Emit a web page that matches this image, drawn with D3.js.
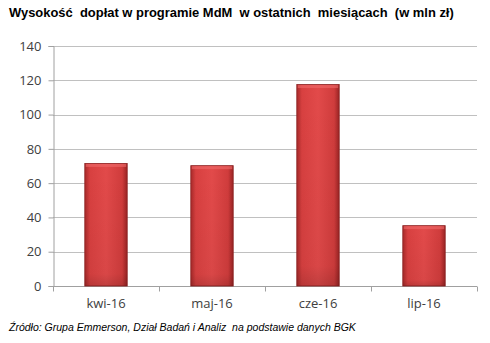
<!DOCTYPE html>
<html><head><meta charset="utf-8">
<script src="https://cdn.jsdelivr.net/npm/d3@7"></script>
<style>
html,body{margin:0;padding:0;background:#fff;}
svg{display:block;}
</style></head>
<body>
<svg id="c" width="490" height="343"></svg>
<script>
const categories = ["kwi-16", "maj-16", "cze-16", "lip-16"];
const values = [71.5, 70.2, 117.5, 35.2];
const yTicks = [0, 20, 40, 60, 80, 100, 120, 140];
const titleText = "Wysokość\u00a0 dopłat w programie MdM\u00a0 w ostatnich\u00a0 miesiącach\u00a0 (w mln zł)";
const sourceText = "Źródło: Grupa Emmerson, Dział Badań i Analiz\u00a0 na podstawie danych BGK";

const svg = d3.select("#c");
const pL = 53, pR = 477, pT = 46, pB = 286;

const x = d3.scaleBand().domain(categories).range([pL, pR]).paddingInner(0.6).paddingOuter(0.3);
const y = d3.scaleLinear().domain([0, 140]).range([pB, pT]);

const defs = svg.append("defs");
const g = defs.append("linearGradient").attr("id", "bar").attr("x1", 0).attr("x2", 1).attr("y1", 0).attr("y2", 0);
g.append("stop").attr("offset", "0%").attr("stop-color", "#a82a2a");
g.append("stop").attr("offset", "12%").attr("stop-color", "#d84040");
g.append("stop").attr("offset", "50%").attr("stop-color", "#e24a4a");
g.append("stop").attr("offset", "88%").attr("stop-color", "#d03c3c");
g.append("stop").attr("offset", "100%").attr("stop-color", "#9a2424");
const gt = defs.append("linearGradient").attr("id", "shade").attr("x1", 0).attr("x2", 0).attr("y1", 0).attr("y2", 1);
gt.append("stop").attr("offset", "0%").attr("stop-color", "#000").attr("stop-opacity", 0);
gt.append("stop").attr("offset", "90%").attr("stop-color", "#000").attr("stop-opacity", 0.04);
gt.append("stop").attr("offset", "100%").attr("stop-color", "#000").attr("stop-opacity", 0.15);

// gridlines
svg.append("g").selectAll("line").data(yTicks.filter(d => d > 0)).join("line")
  .attr("x1", pL).attr("x2", pR)
  .attr("y1", d => Math.round(y(d)) + 0.5).attr("y2", d => Math.round(y(d)) + 0.5)
  .attr("stroke", "#c0c0c0").attr("stroke-width", 1);

// y axis
const yAxis = svg.append("g").attr("transform", `translate(${pL + 0.5},0)`)
  .call(d3.axisLeft(y).tickValues(yTicks).tickSize(5).tickPadding(7).tickFormat(d3.format("d")));
yAxis.select(".domain").attr("stroke", "#a0a0a0");
yAxis.selectAll(".tick line").attr("stroke", "#a0a0a0");
yAxis.selectAll("text").attr("fill", "#404040").attr("font-family", "'Open Sans', 'Liberation Sans', sans-serif").attr("font-size", 13);

// x axis
const xAxis = svg.append("g").attr("transform", `translate(0,${pB + 0.5})`)
  .call(d3.axisBottom(x).tickSize(0).tickPadding(12));
xAxis.select(".domain").remove();
xAxis.append("line").attr("x1", pL).attr("x2", pR).attr("stroke", "#a0a0a0");
const bounds = d3.range(categories.length + 1).map(i => pL + i * (pR - pL) / categories.length);
xAxis.selectAll(".btick").data(bounds).join("line").attr("class", "btick")
  .attr("x1", d => Math.round(d) + 0.5).attr("x2", d => Math.round(d) + 0.5).attr("y1", 0).attr("y2", 5)
  .attr("stroke", "#a0a0a0");
xAxis.selectAll("text").attr("fill", "#404040").attr("font-family", "'Open Sans', 'Liberation Sans', sans-serif").attr("font-size", 13);

// bars
const bars = svg.append("g");
bars.selectAll("rect.b").data(values).join("rect").attr("class", "b")
  .attr("x", (d, i) => x(categories[i])).attr("width", x.bandwidth())
  .attr("y", d => y(d)).attr("height", d => pB - y(d))
  .attr("fill", "url(#bar)").attr("stroke", "#8a2020").attr("stroke-width", 0.8);
bars.selectAll("rect.s").data(values).join("rect").attr("class", "s")
  .attr("x", (d, i) => x(categories[i])).attr("width", x.bandwidth())
  .attr("y", d => y(d)).attr("height", d => pB - y(d))
  .attr("fill", "url(#shade)");
bars.selectAll("rect.t").data(values).join("rect").attr("class", "t")
  .attr("x", (d, i) => x(categories[i]) + 1).attr("width", x.bandwidth() - 2)
  .attr("y", d => y(d) + 0.5).attr("height", 3)
  .attr("fill", "#ee6a6a").attr("opacity", 0.6);

// title
svg.append("text").attr("x", 9).attr("y", 17).text(titleText)
  .attr("font-family", "'Liberation Sans', Arial, sans-serif").attr("font-weight", "bold").attr("font-size", 12.95).attr("fill", "#000");

// source
svg.append("text").attr("x", 9).attr("y", 331).text(sourceText)
  .attr("font-family", "'Liberation Sans', Arial, sans-serif").attr("font-style", "italic").attr("font-size", 10.5).attr("fill", "#000");
</script>
</body></html>
